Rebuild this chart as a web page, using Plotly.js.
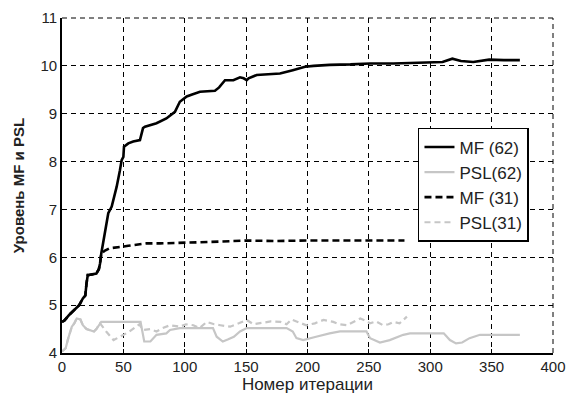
<!DOCTYPE html>
<html>
<head>
<meta charset="utf-8">
<script src="https://cdn.plot.ly/plotly-3.0.1.min.js"></script>
<style>html,body{margin:0;padding:0;background:#fff;}#chart{width:566px;height:394px;}</style>
</head>
<body>
<div id="chart"></div>
<script>
const seriesNames = ["MF (62)", "PSL(62)", "MF (31)", "PSL(31)"];
const xTicks = [0, 50, 100, 150, 200, 250, 300, 350, 400];
const yTicks = [4, 5, 6, 7, 8, 9, 10, 11];

const mf62X = [0,2,6,10,14,17,19,20,21,22,28,30,31,32,34.5,36,37.7,40.5,43,44.5,47.2,48.6,50,50.5,54,58,63.5,66,67.6,72,77,85,92,96,101.6,106,112.4,124.6,128,132.8,139.6,145,148,150.5,152,158.6,165,177.6,188,193.9,198,205,218,235,251,270,300,310,318,325,335,348,360,373];
const mf62Y = [4.65,4.68,4.8,4.9,5.0,5.14,5.2,5.46,5.63,5.63,5.66,5.75,5.87,6.08,6.43,6.7,6.92,7.06,7.3,7.47,7.82,8.03,8.1,8.31,8.38,8.42,8.45,8.7,8.73,8.76,8.8,8.9,9.04,9.25,9.36,9.4,9.46,9.48,9.55,9.70,9.70,9.76,9.74,9.70,9.74,9.81,9.82,9.84,9.91,9.95,9.98,10.0,10.02,10.03,10.05,10.05,10.08,10.08,10.15,10.1,10.08,10.13,10.12,10.12];

const mf31X = [0,2,6,10,14,17,19,20,21,22,28,30,31,32,35,39,44,48.6,54,59.5,66,69,80,101.6,120,150.5,175,199,225,251,265,279];
const mf31Y = [4.65,4.68,4.8,4.9,5.0,5.14,5.2,5.46,5.63,5.63,5.66,5.75,5.87,6.08,6.14,6.19,6.2,6.22,6.24,6.26,6.29,6.29,6.29,6.30,6.32,6.35,6.34,6.35,6.35,6.36,6.35,6.35];

const psl62X = [0,3,5,8,10,12,15,17,20,22,26,28,31,32,64,65,67,72,77,85,88,96,100,123,126,128,131,135,140,145,150.5,165,183,188,191,196.5,202,207,218,226.5,248,251,259,267,278,283.5,300,311,316,321,326,332,340.5,355,373];
const psl62Y = [4.03,4.1,4.3,4.55,4.62,4.72,4.7,4.58,4.5,4.48,4.45,4.5,4.62,4.65,4.65,4.48,4.24,4.24,4.38,4.41,4.48,4.52,4.52,4.52,4.34,4.3,4.24,4.28,4.34,4.45,4.52,4.52,4.52,4.45,4.31,4.27,4.3,4.34,4.41,4.45,4.45,4.31,4.22,4.27,4.38,4.41,4.41,4.41,4.27,4.2,4.22,4.31,4.38,4.38,4.38];

const psl31X = [0,3,5,8,10,12,15,17,20,22,26,28,31,36,42,48,55,63,66,72,77,82,88,96,101,107,112,118,124,129,137,144,150.5,156,161,170,178,183,187,193,199,206,213,221,226,232,238,243,247,251,256,261.5,266,270,275,281];
const psl31Y = [4.03,4.1,4.3,4.55,4.62,4.72,4.7,4.58,4.5,4.48,4.45,4.5,4.62,4.45,4.27,4.35,4.45,4.6,4.48,4.5,4.45,4.52,4.58,4.55,4.6,4.58,4.52,4.65,4.6,4.58,4.55,4.62,4.69,4.6,4.62,4.66,4.65,4.6,4.70,4.64,4.58,4.62,4.69,4.65,4.6,4.58,4.66,4.72,4.68,4.62,4.66,4.58,4.6,4.65,4.62,4.76];

const FONT = "Liberation Sans, Arial, sans-serif";
const GRID_DASH = "5px,4px";
const traces = [
  {x: mf62X, y: mf62Y, name: seriesNames[0], mode: "lines", legendgroup: "a",
   line: {color: "#000", width: 2.6}},
  {x: psl62X, y: psl62Y, name: seriesNames[1], mode: "lines", legendgroup: "b",
   line: {color: "#c6c6c6", width: 2.2}},
  {x: mf31X, y: mf31Y, name: seriesNames[2], mode: "lines", legendgroup: "c",
   line: {color: "#000", width: 2.6, dash: "7px,4px"}},
  {x: psl31X, y: psl31Y, name: seriesNames[3], mode: "lines", legendgroup: "d",
   line: {color: "#c6c6c6", width: 2.2, dash: "6px,4px"}}
];

const axisCommon = {
  showline: true, linecolor: "#000", linewidth: 1.8,
  showgrid: true, gridcolor: "#000", gridwidth: 1, griddash: GRID_DASH,
  zeroline: false, ticks: "inside", ticklen: 4, tickcolor: "#000",
  tickfont: {family: FONT, size: 15, color: "#222"}
};

const layout = {
  width: 566, height: 394,
  margin: {l: 62, r: 13, t: 18, b: 41},
  paper_bgcolor: "#fff", plot_bgcolor: "#fff",
  showlegend: true,
  xaxis: Object.assign({}, axisCommon, {
    range: [0, 400], tickvals: xTicks, ticktext: xTicks.map(String),
    ticklabelstandoff: -1,
    title: {text: "Номер итерации", font: {family: FONT, size: 17, color: "#222"}, standoff: 5}
  }),
  yaxis: Object.assign({}, axisCommon, {
    range: [4, 11], tickvals: yTicks, ticktext: yTicks.map(String),
    title: {text: "<b>Уровень MF и PSL</b>", font: {family: FONT, size: 15, color: "#222"}, standoff: 12}
  }),
  shapes: [
    {type: "line", xref: "paper", yref: "paper", x0: 0, x1: 1, y0: 1, y1: 1,
     line: {color: "#000", width: 1, dash: GRID_DASH}},
    {type: "line", xref: "paper", yref: "paper", x0: 1, x1: 1, y0: 0, y1: 1,
     line: {color: "#000", width: 1, dash: GRID_DASH}}
  ],
  legend: {
    x: 0.725, y: 0.672, xanchor: "left", yanchor: "top",
    bgcolor: "#fff", bordercolor: "#000", borderwidth: 1.5,
    font: {family: FONT, size: 17, color: "#222"},
    traceorder: "grouped", tracegroupgap: 0, itemwidth: 30
  }
};

Plotly.newPlot("chart", traces, layout, {displayModeBar: false, staticPlot: true});
</script>
</body>
</html>
